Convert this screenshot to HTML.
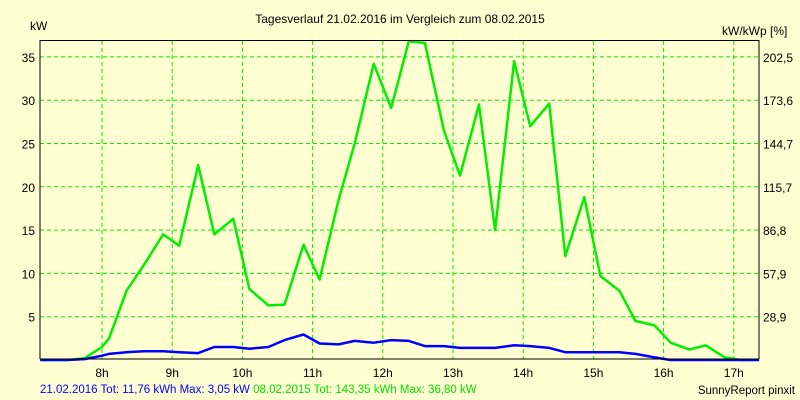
<!DOCTYPE html>
<html><head><meta charset="utf-8"><style>
body{margin:0;background:#ffffd2;}
svg{display:block;font-family:"Liberation Sans",sans-serif;font-size:12px;}
</style></head><body>
<svg width="800" height="400">
<rect width="800" height="400" fill="#ffffd2"/>
<text x="400" y="23" text-anchor="middle">Tagesverlauf 21.02.2016 im Vergleich zum 08.02.2015</text>
<text x="30" y="30">kW</text>
<text x="722" y="35">kW/kWp [%]</text>
<g id="grid"></g>
<g id="series"></g>
<line x1="40" y1="40" x2="40" y2="359" stroke="#000"/>
<line x1="40" y1="40.5" x2="759" y2="40.5" stroke="#000"/>
<line x1="759" y1="40" x2="759" y2="359" stroke="#000"/>
<line x1="40" y1="359" x2="759" y2="359" stroke="#000"/>
<text x="40" y="393" font-size="11.5" fill="#0000ff">21.02.2016 Tot: 11,76 kWh Max: 3,05 kW <tspan fill="#00e000">08.02.2015 Tot: 143,35 kWh Max: 36,80 kW</tspan></text>
<text x="795" y="394" text-anchor="end" font-size="11.5">SunnyReport pinxit</text>
</svg>
<script>
const times=[7.12,7.5,7.75,8.0,8.1,8.35,8.6,8.87,9.1,9.37,9.6,9.87,10.1,10.37,10.6,10.87,11.1,11.37,11.6,11.87,12.12,12.37,12.6,12.87,13.1,13.37,13.6,13.87,14.1,14.37,14.6,14.87,15.1,15.37,15.6,15.87,16.1,16.37,16.6,16.87,17.1,17.36];
const green2015=[0,0,0.2,1.5,2.5,8,11,14.5,13.2,22.5,14.5,16.3,8.2,6.3,6.4,13.3,9.3,18.5,25,34.2,29.1,36.8,36.6,26.5,21.3,29.5,15,34.5,27,29.6,12,18.8,9.7,8,4.5,4,2,1.2,1.7,0.3,0,0];
const blue2016=[0,0,0.1,0.5,0.7,0.9,1.0,1.0,0.9,0.8,1.5,1.5,1.3,1.5,2.3,2.95,1.9,1.8,2.2,2.0,2.3,2.2,1.6,1.6,1.4,1.4,1.4,1.7,1.6,1.4,0.9,0.9,0.9,0.9,0.7,0.3,0,0,0,0,0,0];
const leftTicks=[5,10,15,20,25,30,35];
const rightTicks=["28,9","57,9","86,8","115,7","144,7","173,6","202,5"];
const hours=[8,9,10,11,12,13,14,15,16,17];
const NS="http://www.w3.org/2000/svg";
const X=h=>102+(h-8)*70.2;
const Y=v=>360-v*8.66;
const grid=document.getElementById('grid'),svg=document.querySelector('svg'),ser=document.getElementById('series');
function mk(t,a,p){const e=document.createElementNS(NS,t);for(const k in a)e.setAttribute(k,a[k]);(p||svg).appendChild(e);return e;}
leftTicks.forEach((v,i)=>{
 const l=mk('line',{x1:40,x2:759,y1:Y(v),y2:Y(v),stroke:'#00ee00','stroke-dasharray':'4,3'},grid);
 
 
 const t=mk('text',{x:35,y:Y(v)+5,'text-anchor':'end'});t.textContent=v;
 
 
 const r=mk('text',{x:763,y:Y(v)+5});r.textContent=rightTicks[i];
 
 
});
hours.forEach(h=>{
 const l=mk('line',{x1:X(h),x2:X(h),y1:41,y2:359,stroke:'#00ee00','stroke-dasharray':'4,3'},grid);
 
 
 const t=mk('text',{x:X(h),y:377,'text-anchor':'middle'});t.textContent=h+'h';
 
 
});
function line(vals,col,name){
 const p=mk('polyline',{points:vals.map((v,i)=>X(times[i]).toFixed(1)+','+Y(v).toFixed(1)).join(' '),fill:'none',stroke:col,'stroke-width':2.5,'stroke-linejoin':'round'},ser);
 
 
}
line(green2015,'#00ee00','series-2015');
line(blue2016,'#0000ff','series-2016');
</script>
</body></html>
